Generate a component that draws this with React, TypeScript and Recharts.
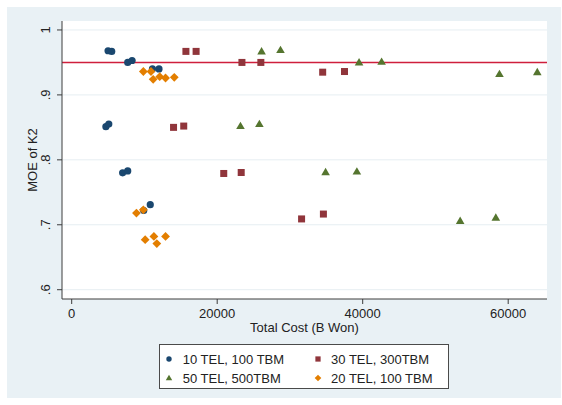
import React from 'react'
import {
  ScatterChart, Scatter, XAxis, YAxis, CartesianGrid, ReferenceLine, Label
} from 'recharts'

// series values (cost in B Won, MOE of K2)
const tel10Cost = [5000, 5500, 7700, 8300, 11100, 12000, 4700, 5100, 7000, 7700, 9900, 10800]
const tel10Moe = [0.968, 0.967, 0.95, 0.953, 0.94, 0.94, 0.851, 0.855, 0.78, 0.783, 0.722, 0.731]

const tel30Cost = [15700, 17100, 14000, 15400, 20900, 23300, 23400, 26000, 34500, 37500, 31600, 34600]
const tel30Moe = [0.967, 0.967, 0.85, 0.852, 0.779, 0.7805, 0.95, 0.95, 0.935, 0.936, 0.709, 0.7165]

const tel50Cost = [26100, 28700, 23200, 25800, 39500, 42600, 34900, 39200, 58800, 64000, 53400, 58300]
const tel50Moe = [0.967, 0.969, 0.852, 0.855, 0.95, 0.951, 0.781, 0.782, 0.932, 0.935, 0.706, 0.711]

const tel20Cost = [9850, 10900, 11200, 12100, 12900, 14100, 8900, 9850, 10100, 11300, 11700, 12900]
const tel20Moe = [0.936, 0.936, 0.924, 0.928, 0.926, 0.927, 0.718, 0.723, 0.677, 0.682, 0.671, 0.682]

const seriesNames = ['10 TEL, 100 TBM', '30 TEL, 300TBM', '50 TEL, 500TBM', '20 TEL, 100 TBM']
const xTicks = [0, 20000, 40000, 60000]
const yTicks = [0.6, 0.7, 0.8, 0.9, 1]
const yTickLabels = ['.6', '.7', '.8', '.9', '1']
const TARGET = 0.95

const BG = '#e9f1f5'
const AXIS = '#3c3c3c'
const FONT = '"Liberation Sans", Arial, Helvetica, sans-serif'

const toPoints = (xs: number[], ys: number[]) => xs.map((x, i) => ({ x, y: ys[i] }))

type Shape = 'circle' | 'square' | 'triangle' | 'diamond'

function marker(shape: Shape, cx: number, cy: number, fill: string, s = 1) {
  if (shape === 'circle') return <circle cx={cx} cy={cy} r={3.6 * s} fill={fill} />
  if (shape === 'square') {
    const h = 3.5 * s
    return <rect x={cx - h} y={cy - h} width={2 * h} height={2 * h} fill={fill} />
  }
  if (shape === 'triangle') {
    return (
      <polygon
        points={`${cx},${cy - 4.4 * s} ${cx + 4.3 * s},${cy + 3 * s} ${cx - 4.3 * s},${cy + 3 * s}`}
        fill={fill}
      />
    )
  }
  const d = 4.4 * s
  return <polygon points={`${cx},${cy - d} ${cx + d},${cy} ${cx},${cy + d} ${cx - d},${cy}`} fill={fill} />
}

const series = [
  { name: seriesNames[0], data: toPoints(tel10Cost, tel10Moe), color: '#1a476f', shape: 'circle' as Shape },
  { name: seriesNames[1], data: toPoints(tel30Cost, tel30Moe), color: '#90353b', shape: 'square' as Shape },
  { name: seriesNames[2], data: toPoints(tel50Cost, tel50Moe), color: '#55752f', shape: 'triangle' as Shape },
  { name: seriesNames[3], data: toPoints(tel20Cost, tel20Moe), color: '#e37e00', shape: 'diamond' as Shape },
]

const XTick = (props: any) => {
  const { x, y, payload } = props
  return (
    <text x={x} y={y} dy="0.71em" textAnchor="middle" fontSize={13} fontFamily={FONT} fill="#222">
      {payload.value}
    </text>
  )
}

const YTick = (props: any) => {
  const { x, y, payload } = props
  const cx = x - 11.5
  const label = yTickLabels[yTicks.indexOf(payload.value)] ?? String(payload.value)
  return (
    <text x={cx} y={y} dy="0.35em" textAnchor="middle" transform={`rotate(-90, ${cx}, ${y})`}
      fontSize={13} fontFamily={FONT} fill="#222">
      {label}
    </text>
  )
}

const XTitle = (props: any) => {
  const vb = props.viewBox
  return (
    <text x={vb.x + vb.width / 2} y={vb.y + 28.5} dy="0.35em" textAnchor="middle"
      fontSize={13} fontFamily={FONT} fill="#222">
      Total Cost (B Won)
    </text>
  )
}

const YTitle = (props: any) => {
  const vb = props.viewBox
  const cx = 25.5
  const cy = vb.y + vb.height / 2
  return (
    <text x={cx} y={cy} dy="0.35em" textAnchor="middle" transform={`rotate(-90, ${cx}, ${cy})`}
      fontSize={13} fontFamily={FONT} fill="#222">
      MOE of K2
    </text>
  )
}

// legend: row-wise, two columns
const legendCols = [9.3, 157.7]
const legendRows = [14.3, 33.3]

export default function App() {
  return (
    <div style={{ position: 'absolute', left: 7, top: 7, width: 554, height: 391, background: BG }}>
      <ScatterChart width={554} height={391} margin={{ top: 14, right: 14, bottom: 59, left: 0 }}>
        <CartesianGrid vertical={false} horizontalValues={yTicks} stroke="#e6eef2" fill="#ffffff" />
        <XAxis
          type="number"
          dataKey="x"
          domain={[-1333, 65335]}
          allowDataOverflow
          ticks={xTicks}
          tick={<XTick />}
          tickSize={5}
          tickMargin={4.5}
          height={40}
          stroke={AXIS}
          tickLine={{ stroke: AXIS }}
        >
          <Label content={<XTitle />} />
        </XAxis>
        <YAxis
          type="number"
          dataKey="y"
          domain={[0.5857, 1.0138]}
          allowDataOverflow
          ticks={yTicks}
          tick={<YTick />}
          tickSize={5}
          tickMargin={0}
          width={55}
          stroke={AXIS}
          tickLine={{ stroke: AXIS }}
        >
          <Label content={<YTitle />} />
        </YAxis>
        <ReferenceLine y={TARGET} stroke="#cf1f3c" strokeWidth={1.4} />
        {series.map((s) => (
          <Scatter
            key={s.name}
            name={s.name}
            data={s.data}
            fill={s.color}
            isAnimationActive={false}
            shape={(p: any) => marker(s.shape, p.cx, p.cy, s.color)}
          />
        ))}
      </ScatterChart>
      <div
        style={{
          position: 'absolute', left: 152, top: 337, width: 288, height: 43,
          background: '#fff', border: '1px solid #4a4a4a', fontFamily: FONT, fontSize: 13, color: '#222',
        }}
      >
        {series.map((s, i) => {
          const col = legendCols[i % 2]
          const row = legendRows[Math.floor(i / 2)]
          return (
            <div key={s.name} style={{
              position: 'absolute', left: col - 7, top: row - 8, height: 16,
              display: 'flex', alignItems: 'center', whiteSpace: 'nowrap',
            }}>
              <svg width={14} height={16}>{marker(s.shape, 7, 8, s.color, 0.75)}</svg>
              <span style={{ marginLeft: 6.4 }}>{s.name}</span>
            </div>
          )
        })}
      </div>
    </div>
  )
}
